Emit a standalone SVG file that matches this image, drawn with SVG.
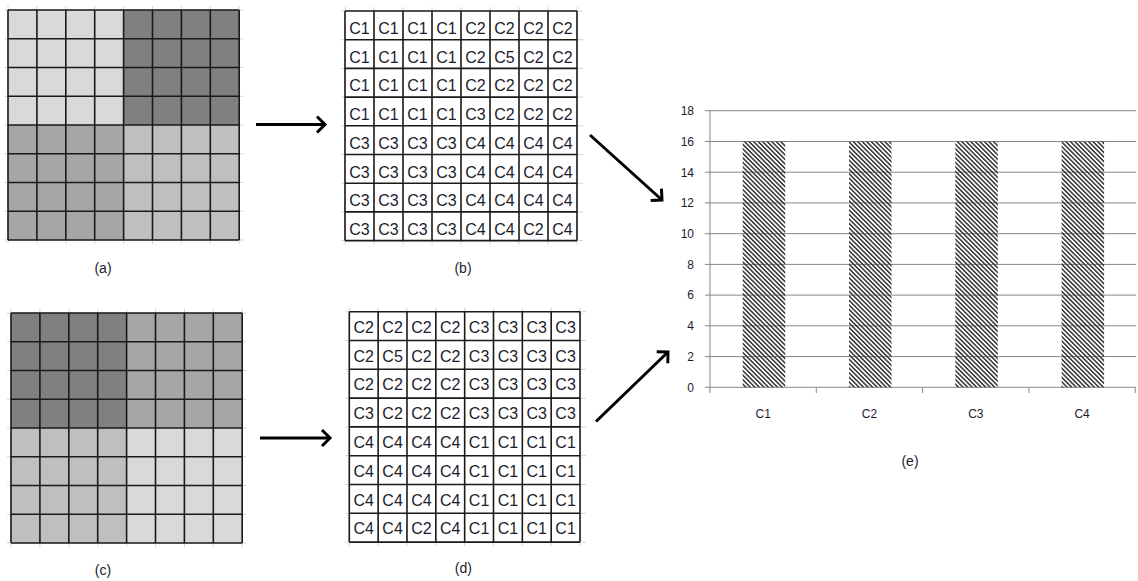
<svg xmlns="http://www.w3.org/2000/svg" width="1138" height="581" viewBox="0 0 1138 581">
  <style>
    .faint { fill: none; stroke: #d4d4d4; stroke-width: 1; }
    .grid { fill: none; stroke: #1a1a1a; stroke-width: 1.6; }
    .cell { font-family: "Liberation Sans", Arial, sans-serif; font-size: 16px; fill: #1c1c2c; text-anchor: middle; }
    .cap { font-family: "Liberation Sans", Arial, sans-serif; font-size: 14px; fill: #1c1c2c; text-anchor: middle; }
    .ax { font-family: "Liberation Sans", Arial, sans-serif; font-size: 12px; fill: #1c1c2c; }
    .gl { fill: none; stroke: #868686; stroke-width: 1; }
    .conn { fill: none; stroke: #000; stroke-width: 3; marker-end: url(#chev); }
    .q1 { fill: #d9d9d9; } .q2 { fill: #808080; } .q3 { fill: #a6a6a6; } .q4 { fill: #bfbfbf; }
  </style>
  <defs>
    <marker id="chev" markerUnits="userSpaceOnUse" markerWidth="30" markerHeight="30" viewBox="-15 -15 30 30" refX="0" refY="0" orient="auto" overflow="visible">
      <path d="M-8,-8 L0,0 L-8,8" fill="none" stroke="#000" stroke-width="3"/>
    </marker>
    <pattern id="hatch" patternUnits="userSpaceOnUse" width="3.2" height="10" patternTransform="rotate(-45)">
      <rect x="0" y="0" width="1.5" height="10" fill="#333"/>
    </pattern>
  </defs>

  <rect width="1138" height="581" fill="#fff"/>

  <!-- (a) shaded 8x8 block -->
  <g id="grid-a" transform="translate(8,10)">
    <path class="faint" d="M-4,0H235.2M-4,28.75H235.2M-4,57.5H235.2M-4,86.25H235.2M-4,115H235.2M-4,143.75H235.2M-4,172.5H235.2M-4,201.25H235.2M-4,230H235.2M0,-4V234M28.9,-4V234M57.8,-4V234M86.7,-4V234M115.6,-4V234M144.5,-4V234M173.4,-4V234M202.3,-4V234M231.2,-4V234"/>
    <rect class="q1" x="0" y="0" width="115.6" height="115"/>
    <rect class="q2" x="115.6" y="0" width="115.6" height="115"/>
    <rect class="q3" x="0" y="115" width="115.6" height="115"/>
    <rect class="q4" x="115.6" y="115" width="115.6" height="115"/>
    <path class="grid" d="M0,0H231.2M0,28.75H231.2M0,57.5H231.2M0,86.25H231.2M0,115H231.2M0,143.75H231.2M0,172.5H231.2M0,201.25H231.2M0,230H231.2M0,0V230M28.9,0V230M57.8,0V230M86.7,0V230M115.6,0V230M144.5,0V230M173.4,0V230M202.3,0V230M231.2,0V230"/>
    <text class="cap" x="95" y="263">(a)</text>
  </g>

  <!-- (c) shaded 8x8 block -->
  <g id="grid-c" transform="translate(11,313)">
    <path class="faint" d="M-4,0H235.2M-4,28.75H235.2M-4,57.5H235.2M-4,86.25H235.2M-4,115H235.2M-4,143.75H235.2M-4,172.5H235.2M-4,201.25H235.2M-4,230H235.2M0,-4V234M28.9,-4V234M57.8,-4V234M86.7,-4V234M115.6,-4V234M144.5,-4V234M173.4,-4V234M202.3,-4V234M231.2,-4V234"/>
    <rect class="q2" x="0" y="0" width="115.6" height="115"/>
    <rect class="q3" x="115.6" y="0" width="115.6" height="115"/>
    <rect class="q4" x="0" y="115" width="115.6" height="115"/>
    <rect class="q1" x="115.6" y="115" width="115.6" height="115"/>
    <path class="grid" d="M0,0H231.2M0,28.75H231.2M0,57.5H231.2M0,86.25H231.2M0,115H231.2M0,143.75H231.2M0,172.5H231.2M0,201.25H231.2M0,230H231.2M0,0V230M28.9,0V230M57.8,0V230M86.7,0V230M115.6,0V230M144.5,0V230M173.4,0V230M202.3,0V230M231.2,0V230"/>
    <text class="cap" x="92" y="262">(c)</text>
  </g>

  <!-- (b) label table -->
  <g id="grid-b" transform="translate(345,11)">
    <path class="faint" d="M-4,0H238M-4,28.7H238M-4,57.4H238M-4,86.1H238M-4,114.8H238M-4,143.5H238M-4,172.2H238M-4,200.9H238M-4,229.6H238M0,-4V233.6M29,-4V233.6M58,-4V233.6M87,-4V233.6M116,-4V233.6M145,-4V233.6M174,-4V233.6M203,-4V233.6M232,-4V233.6"/>
    <rect x="0" y="0" width="232" height="229.6" fill="#fff"/>
    <path class="grid" d="M0,0H232M0,28.7H232M0,57.4H232M0,86.1H232M0,114.8H232M0,143.5H232M0,172.2H232M0,200.9H232M0,229.6H232M0,0V229.6M29,0V229.6M58,0V229.6M87,0V229.6M116,0V229.6M145,0V229.6M174,0V229.6M203,0V229.6M232,0V229.6"/>
    <g class="cell">
      <g transform="translate(0,23)"><text x="14.5">C1</text><text x="43.5">C1</text><text x="72.5">C1</text><text x="101.5">C1</text><text x="130.5">C2</text><text x="159.5">C2</text><text x="188.5">C2</text><text x="217.5">C2</text></g>
      <g transform="translate(0,51.7)"><text x="14.5">C1</text><text x="43.5">C1</text><text x="72.5">C1</text><text x="101.5">C1</text><text x="130.5">C2</text><text x="159.5">C5</text><text x="188.5">C2</text><text x="217.5">C2</text></g>
      <g transform="translate(0,80.4)"><text x="14.5">C1</text><text x="43.5">C1</text><text x="72.5">C1</text><text x="101.5">C1</text><text x="130.5">C2</text><text x="159.5">C2</text><text x="188.5">C2</text><text x="217.5">C2</text></g>
      <g transform="translate(0,109.1)"><text x="14.5">C1</text><text x="43.5">C1</text><text x="72.5">C1</text><text x="101.5">C1</text><text x="130.5">C3</text><text x="159.5">C2</text><text x="188.5">C2</text><text x="217.5">C2</text></g>
      <g transform="translate(0,137.8)"><text x="14.5">C3</text><text x="43.5">C3</text><text x="72.5">C3</text><text x="101.5">C3</text><text x="130.5">C4</text><text x="159.5">C4</text><text x="188.5">C4</text><text x="217.5">C4</text></g>
      <g transform="translate(0,166.5)"><text x="14.5">C3</text><text x="43.5">C3</text><text x="72.5">C3</text><text x="101.5">C3</text><text x="130.5">C4</text><text x="159.5">C4</text><text x="188.5">C4</text><text x="217.5">C4</text></g>
      <g transform="translate(0,195.2)"><text x="14.5">C3</text><text x="43.5">C3</text><text x="72.5">C3</text><text x="101.5">C3</text><text x="130.5">C4</text><text x="159.5">C4</text><text x="188.5">C4</text><text x="217.5">C4</text></g>
      <g transform="translate(0,223.9)"><text x="14.5">C3</text><text x="43.5">C3</text><text x="72.5">C3</text><text x="101.5">C3</text><text x="130.5">C4</text><text x="159.5">C4</text><text x="188.5">C2</text><text x="217.5">C4</text></g>
    </g>
    <text class="cap" x="118" y="262">(b)</text>
  </g>

  <!-- (d) label table -->
  <g id="grid-d" transform="translate(349.3,311.7)">
    <path class="faint" d="M-4,0H236.7M-4,28.8H236.7M-4,57.6H236.7M-4,86.4H236.7M-4,115.2H236.7M-4,144H236.7M-4,172.8H236.7M-4,201.6H236.7M-4,230.4H236.7M0,-4V234.4M28.84,-4V234.4M57.68,-4V234.4M86.52,-4V234.4M115.36,-4V234.4M144.2,-4V234.4M173.04,-4V234.4M201.88,-4V234.4M230.72,-4V234.4"/>
    <rect x="0" y="0" width="230.72" height="230.4" fill="#fff"/>
    <path class="grid" d="M0,0H230.72M0,28.8H230.72M0,57.6H230.72M0,86.4H230.72M0,115.2H230.72M0,144H230.72M0,172.8H230.72M0,201.6H230.72M0,230.4H230.72M0,0V230.4M28.84,0V230.4M57.68,0V230.4M86.52,0V230.4M115.36,0V230.4M144.2,0V230.4M173.04,0V230.4M201.88,0V230.4M230.72,0V230.4"/>
    <g class="cell">
      <g transform="translate(0,21)"><text x="14.4">C2</text><text x="43.3">C2</text><text x="72.1">C2</text><text x="100.9">C2</text><text x="129.8">C3</text><text x="158.6">C3</text><text x="187.5">C3</text><text x="216.3">C3</text></g>
      <g transform="translate(0,49.8)"><text x="14.4">C2</text><text x="43.3">C5</text><text x="72.1">C2</text><text x="100.9">C2</text><text x="129.8">C3</text><text x="158.6">C3</text><text x="187.5">C3</text><text x="216.3">C3</text></g>
      <g transform="translate(0,78.6)"><text x="14.4">C2</text><text x="43.3">C2</text><text x="72.1">C2</text><text x="100.9">C2</text><text x="129.8">C3</text><text x="158.6">C3</text><text x="187.5">C3</text><text x="216.3">C3</text></g>
      <g transform="translate(0,107.4)"><text x="14.4">C3</text><text x="43.3">C2</text><text x="72.1">C2</text><text x="100.9">C2</text><text x="129.8">C3</text><text x="158.6">C3</text><text x="187.5">C3</text><text x="216.3">C3</text></g>
      <g transform="translate(0,136.2)"><text x="14.4">C4</text><text x="43.3">C4</text><text x="72.1">C4</text><text x="100.9">C4</text><text x="129.8">C1</text><text x="158.6">C1</text><text x="187.5">C1</text><text x="216.3">C1</text></g>
      <g transform="translate(0,165)"><text x="14.4">C4</text><text x="43.3">C4</text><text x="72.1">C4</text><text x="100.9">C4</text><text x="129.8">C1</text><text x="158.6">C1</text><text x="187.5">C1</text><text x="216.3">C1</text></g>
      <g transform="translate(0,193.8)"><text x="14.4">C4</text><text x="43.3">C4</text><text x="72.1">C4</text><text x="100.9">C4</text><text x="129.8">C1</text><text x="158.6">C1</text><text x="187.5">C1</text><text x="216.3">C1</text></g>
      <g transform="translate(0,222.6)"><text x="14.4">C4</text><text x="43.3">C4</text><text x="72.1">C2</text><text x="100.9">C4</text><text x="129.8">C1</text><text x="158.6">C1</text><text x="187.5">C1</text><text x="216.3">C1</text></g>
    </g>
    <text class="cap" x="114" y="261">(d)</text>
  </g>

  <!-- (e) histogram of labels -->
  <g id="chart">
    <path class="gl" d="M705,110.7H1136M705,141.5H1136M705,172.2H1136M705,202.9H1136M705,233.7H1136M705,264.4H1136M705,295.1H1136M705,325.8H1136M705,356.6H1136M705,387.3H1136M710,110.7V387.3M710,387.3V393M816.3,387.3V393M922.6,387.3V393M1028.9,387.3V393M1135.2,387.3V393"/>
    <g class="ax" text-anchor="end">
      <text x="694" y="115">18</text>
      <text x="694" y="145.8">16</text>
      <text x="694" y="176.5">14</text>
      <text x="694" y="207.2">12</text>
      <text x="694" y="238">10</text>
      <text x="694" y="268.7">8</text>
      <text x="694" y="299.4">6</text>
      <text x="694" y="330.1">4</text>
      <text x="694" y="360.9">2</text>
      <text x="694" y="391.6">0</text>
    </g>
    <g fill="url(#hatch)">
      <rect x="742.7" y="141.5" width="42.5" height="245.8"/>
      <rect x="849" y="141.5" width="42.5" height="245.8"/>
      <rect x="955.3" y="141.5" width="42.5" height="245.8"/>
      <rect x="1061.6" y="141.5" width="42.5" height="245.8"/>
    </g>
    <g class="ax" text-anchor="middle">
      <text x="763.2" y="418">C1</text>
      <text x="869.5" y="418">C2</text>
      <text x="975.8" y="418">C3</text>
      <text x="1082.1" y="418">C4</text>
    </g>
    <text class="cap" x="910" y="466">(e)</text>
  </g>

  <!-- connectors -->
  <g id="connectors">
    <path class="conn" d="M256,124.5H325"/>
    <path class="conn" d="M260,438H330"/>
    <path class="conn" d="M590,135L662,200"/>
    <path class="conn" d="M596,421.5L668,352"/>
  </g>
</svg>
